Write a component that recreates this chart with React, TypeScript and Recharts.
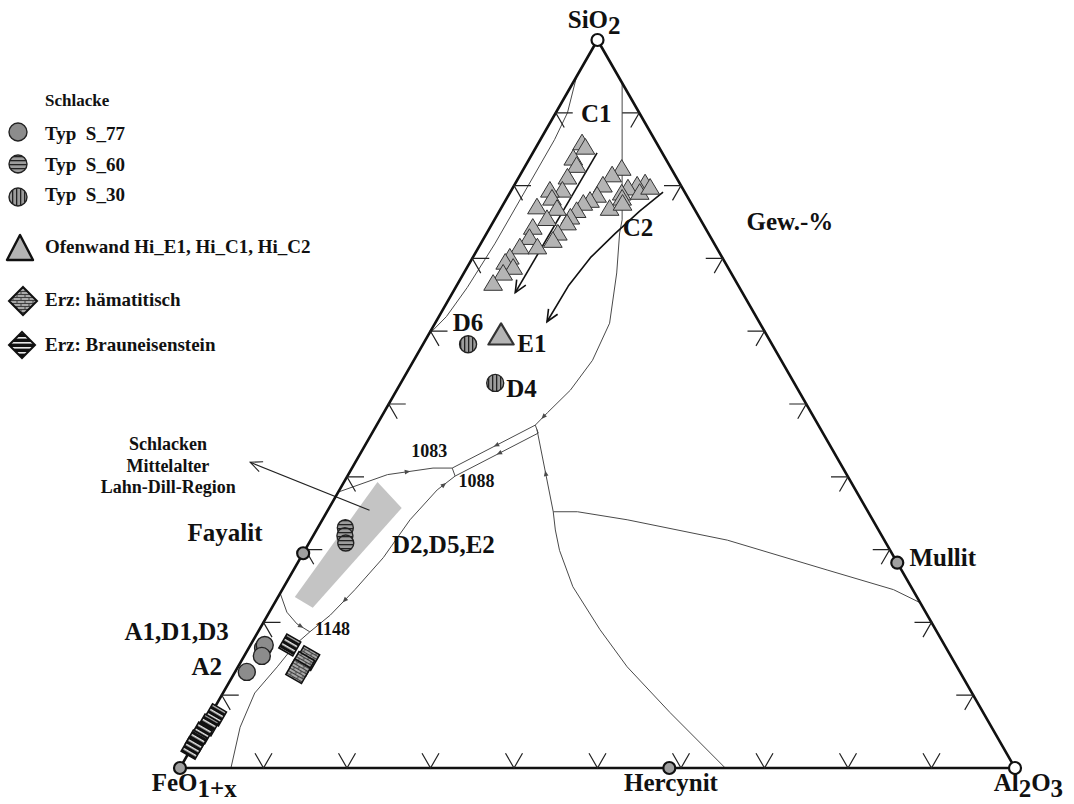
import { ScatterChart, Scatter, XAxis, YAxis } from "recharts";

const W = 1074;
const H = 804;
const FONT = '"Liberation Serif", "Times New Roman", serif';

// compositions in Gew.-%: [SiO2, Al2O3], FeO(1+x) is the remainder
type Comp = [number, number];

const corners: Comp[] = [[100, 0], [0, 0], [0, 100], [100, 0]];
const tickSteps = [10, 20, 30, 40, 50, 60, 70, 80, 90];

const phaseComps: Comp[] = [[29.5, 0], [0, 58.6], [28.2, 71.8], [0, 0]];
const openCorners: Comp[] = [[100, 0], [0, 100]];

// Schlacke
const typS77: Comp[] = [[16.5, 1.7], [16.9, 1.7], [15.4, 2.1], [13.2, 1.4]];
const typS60: Comp[] = [[33.0, 3.3], [31.9, 3.8], [30.9, 4.4]];
const typS30: Comp[] = [[58.2, 5.4], [52.9, 11.3]];

// Ofenwand
const ofenC1: Comp[] = [
  [85.9, 5.2], [85.3, 5.9], [83.8, 5.2], [82.8, 6.1], [81.2, 5.8], [79.4, 6.1], [79.4, 4.6],
  [78.3, 5.4], [77.1, 4.2], [76.9, 6.7], [75.5, 6.2], [74.3, 5.1], [72.9, 5.4], [71.6, 4.9],
  [71.6, 7.0], [70.2, 4.4], [69.5, 4.2], [68.8, 5.5], [68.0, 4.7], [66.6, 4.2],
];
const ofenC2: Comp[] = [
  [82.4, 11.7], [81.5, 11.0], [80.1, 10.6], [80.4, 15.5], [80.1, 14.7], [79.7, 13.8],
  [79.0, 13.4], [78.3, 13.8], [76.9, 13.0], [78.7, 10.6], [78.0, 10.1], [77.6, 9.5],
  [76.6, 9.2], [75.7, 8.9], [74.9, 8.9], [73.5, 8.5], [72.5, 8.4], [77.6, 14.2],
  [79.1, 15.5], [79.8, 16.4],
];
const ofenE1: Comp[] = [[59.5, 8.7]];

// Erz
const erzHaem: Comp[] = [[15.1, 7.7], [14.3, 7.5], [13.3, 7.5]];
const erzBraun: Comp[] = [[16.9, 4.7], [7.3, 0.6], [5.9, 0.4], [4.8, 0.2], [3.7, 0.1], [2.7, 0.1]];

// phase boundaries
const sio2Liquidus: Comp[] = [[95, 0], [90, 1.4], [86.3, 1.7], [80, 1.7], [72, 1.7], [66, 1.4], [62, 0.9], [59.5, 0]];
const cotecticTop: Comp[] = [[94.1, 5.9], [75.3, 15.3], [73.5, 15.9], [68, 18.3], [61.1, 20.9], [56, 21.4], [51.9, 20.8], [48.8, 19.6], [47.1, 19]];
const cotecticBand: Comp[] = [[47.1, 19], [41.2, 12], [40.1, 12.9], [46, 19.9], [47.1, 19]];
const cotectic1083: Comp[] = [[37.9, 0], [40.3, 4.7], [41.2, 9.7], [41.2, 12]];
const cotectic1148: Comp[] = [[40.1, 12.9], [38.2, 11.7], [34.1, 10.5], [28.9, 9.9], [24.5, 8.7], [21, 7.5], [18.7, 6.2], [16.9, 5.3], [13.9, 4.7], [10.3, 3.8], [5.6, 4.4], [0, 6.1]];
const cotecticFay: Comp[] = [[24, 0], [21.4, 2.1], [19.8, 4.1], [18.7, 6.2]];
const cotecticHerc: Comp[] = [[46.5, 19.5], [35.2, 27.1], [32.7, 28.6], [29.9, 30.5], [24.9, 34.6], [19, 40.8], [13.9, 46.6], [7.6, 54.9], [0, 65.3]];
const cotecticMullit: Comp[] = [[35.2, 27.1], [35.2, 30], [34.1, 36.5], [31.3, 49.9], [27.2, 63.9], [24.5, 73.2], [22.7, 77.3]];

// trend arrows and slag field
const trendC1: Comp[] = [[84.5, 7.7], [65.3, 7.5]];
const trendC2: Comp[] = [[79.1, 18.3], [76.5, 16.8], [73.4, 15.4], [70.1, 14.1], [66.2, 13.4], [61.3, 13.3]];
const pointerSlag: Comp[] = [[35.4, 5], [42, -12.6]];
const slagField: Comp[] = [[39.3, 4], [35.7, 8.7], [22, 4.9], [23.5, 2]];

// labels (odd parts are subscripts)
const bigLabels: string[][] = [
  ["SiO", "2"], ["FeO", "1+x"], ["Hercynit"], ["Al", "2", "O", "3"], ["Mullit"], ["Fayalit"],
  ["Gew.-%"], ["C1"], ["C2"], ["D6"], ["E1"], ["D4"], ["D2,D5,E2"], ["A1,D1,D3"], ["A2"],
];
const bigLabelComps: Comp[] = [
  [101.6, -1.2], [-3.2, 3.3], [-3.2, 60.4], [-3.2, 103.2], [27.7, 77.5], [31.2, -10.2],
  [73.9, 36.1], [88.7, 5.5], [73.1, 18.3], [60.0, 4.5], [57.1, 13.6], [51.0, 15.4],
  [29.5, 16.8], [17.6, -9.2], [12.8, -3.2],
];
const smallLabels: string[][] = [["1083"], ["1088"], ["1148"], ["Schlacken"], ["Mittelalter"], ["Lahn-Dill-Region"]];
const smallLabelComps: Comp[] = [[42.7, 8.5], [38.6, 16.2], [18.3, 9.1], [43.7, -23.3], [40.7, -21.8], [37.8, -20.3]];

const toXY = (c: Comp) => ({ x: c[1] + c[0] / 2, y: c[0] });
const pts = (cs: Comp[]) => cs.map(toXY);
const labelData = (texts: string[][], comps: Comp[]) =>
  comps.map((c, i) => ({ ...toXY(c), parts: texts[i] }));

const none = () => <g />;

type P = { x: number; y: number };

function lineRenderer(o: {
  color: string;
  width: number;
  fill?: string;
  closed?: boolean;
  head?: boolean;
  marks?: [number, number][];
}) {
  return (props: any) => {
    const ps: P[] = props.points || [];
    if (ps.length < 2) return <g />;
    const d = ps.map((q, i) => `${i ? "L" : "M"}${q.x},${q.y}`).join(" ") + (o.closed ? " Z" : "");
    const extras: JSX.Element[] = [];
    if (o.head) {
      const a = ps[ps.length - 2];
      const b = ps[ps.length - 1];
      const ang = Math.atan2(b.y - a.y, b.x - a.x);
      const L = 13;
      const s = 0.42;
      extras.push(
        <path
          key="head"
          d={`M${b.x - L * Math.cos(ang - s)},${b.y - L * Math.sin(ang - s)} L${b.x},${b.y} L${b.x - L * Math.cos(ang + s)},${b.y - L * Math.sin(ang + s)}`}
          fill="none"
          stroke={o.color}
          strokeWidth={o.width}
        />
      );
    }
    (o.marks || []).forEach(([seg, dir], k) => {
      const a = ps[seg];
      const b = ps[seg + 1];
      const mx = (a.x + b.x) / 2;
      const my = (a.y + b.y) / 2;
      let ang = Math.atan2(b.y - a.y, b.x - a.x);
      if (dir < 0) ang += Math.PI;
      const L = 6;
      const s = 0.4;
      extras.push(
        <path
          key={`m${k}`}
          d={`M${mx},${my} L${mx - L * Math.cos(ang - s)},${my - L * Math.sin(ang - s)} L${mx - L * Math.cos(ang + s)},${my - L * Math.sin(ang + s)} Z`}
          fill={o.color}
          stroke="none"
        />
      );
    });
    return (
      <g>
        <path d={d} fill={o.fill || "none"} stroke={o.fill ? "none" : o.color} strokeWidth={o.width} strokeLinejoin="round" />
        {extras}
      </g>
    );
  };
}

function tickShape(a1: number, a2: number) {
  return (p: any) => {
    const L = 17;
    const r1 = (a1 * Math.PI) / 180;
    const r2 = (a2 * Math.PI) / 180;
    return (
      <path
        d={`M${p.cx + L * Math.cos(r1)},${p.cy + L * Math.sin(r1)} L${p.cx},${p.cy} L${p.cx + L * Math.cos(r2)},${p.cy + L * Math.sin(r2)}`}
        fill="none"
        stroke="#222"
        strokeWidth={1.2}
      />
    );
  };
}

function labelShape(size: number, sub: number) {
  return (p: any) => {
    const parts: string[] = p.payload?.parts || [];
    return (
      <text x={p.cx} y={p.cy} textAnchor="middle" fontFamily={FONT} fontWeight="bold" fontSize={size} fill="#111">
        {parts.map((t, i) => (
          <tspan key={i} dy={i === 0 ? 0 : i % 2 ? sub : -sub}>
            {t}
          </tspan>
        ))}
      </text>
    );
  };
}

const circleShape = (fill: string, r = 8.5) => (p: any) => (
  <circle cx={p.cx} cy={p.cy} r={r} fill={fill} stroke="#222" strokeWidth={1.4} />
);

const triShape = (size: number, sw: number) => (p: any) => (
  <polygon
    points={`${p.cx},${p.cy - size * 0.5} ${p.cx - size * 0.55},${p.cy + size * 0.42} ${p.cx + size * 0.55},${p.cy + size * 0.42}`}
    fill="#b4b4b4"
    stroke="#333"
    strokeWidth={sw}
    strokeLinejoin="round"
  />
);

const oreShape = (fill: string, rot: number, s = 15) => (p: any) => (
  <rect
    x={p.cx - s / 2}
    y={p.cy - s / 2}
    width={s}
    height={s}
    fill={fill}
    stroke="#111"
    strokeWidth={1.6}
    transform={`rotate(${rot} ${p.cx} ${p.cy})`}
  />
);

const vertexShape = (fill: string) => (p: any) => (
  <circle cx={p.cx} cy={p.cy} r={6} fill={fill} stroke="#111" strokeWidth={2.2} />
);

function Patterns() {
  return (
    <svg width={0} height={0} style={{ position: "absolute" }}>
      <defs>
        <pattern id="hs" width="4" height="4" patternUnits="userSpaceOnUse">
          <rect width="4" height="4" fill="#9c9c9c" />
          <rect width="4" height="1.3" fill="#222" />
        </pattern>
        <pattern id="vs" width="4" height="4" patternUnits="userSpaceOnUse">
          <rect width="4" height="4" fill="#9c9c9c" />
          <rect width="1.3" height="4" fill="#222" />
        </pattern>
        <pattern id="brick" width="8" height="6" patternUnits="userSpaceOnUse">
          <rect width="8" height="6" fill="#a8a8a8" />
          <path d="M0,0.5 H8 M0,3.5 H8 M1,0.5 V3.5 M5,3.5 V6" stroke="#333" strokeWidth="0.9" fill="none" />
        </pattern>
        <pattern id="braun" width="5" height="5" patternUnits="userSpaceOnUse">
          <rect width="5" height="5" fill="#111" />
          <rect y="2" width="5" height="1.6" fill="#e8e8e8" />
        </pattern>
      </defs>
    </svg>
  );
}

function Legend() {
  const t = { fontFamily: FONT, fontWeight: "bold" as const, fill: "#111" };
  return (
    <svg width={340} height={370} style={{ position: "absolute", left: 0, top: 0 }}>
      <text x={45} y={106} fontSize={17} {...t}>Schlacke</text>
      <circle cx={18} cy={132} r={9} fill="#8c8c8c" stroke="#222" strokeWidth={1.4} />
      <text x={45} y={140} fontSize={19} {...t} xmlSpace="preserve">Typ  S_77</text>
      <circle cx={18} cy={164} r={9} fill="url(#hs)" stroke="#222" strokeWidth={1.4} />
      <text x={45} y={171} fontSize={19} {...t} xmlSpace="preserve">Typ  S_60</text>
      <circle cx={18} cy={197} r={9} fill="url(#vs)" stroke="#222" strokeWidth={1.4} />
      <text x={45} y={201} fontSize={19} {...t} xmlSpace="preserve">Typ  S_30</text>
      <polygon points="20,235 7,260 33,260" fill="#b4b4b4" stroke="#111" strokeWidth={2.4} strokeLinejoin="round" />
      <text x={45} y={253} fontSize={19} {...t}>Ofenwand Hi_E1, Hi_C1, Hi_C2</text>
      <polygon points="23,287 37,301 23,315 9,301" fill="url(#brick)" stroke="#111" strokeWidth={2} />
      <text x={45} y={306} fontSize={19} {...t}>Erz: hämatitisch</text>
      <polygon points="22,332 35,345 22,358 9,345" fill="url(#braun)" stroke="#111" strokeWidth={2} />
      <text x={45} y={351} fontSize={19} {...t}>Erz: Brauneisenstein</text>
    </svg>
  );
}

export default function App() {
  const gray = "#4a4a4a";
  return (
    <div style={{ position: "absolute", left: 0, top: 0, width: W, height: H, background: "#fff" }}>
      <Patterns />
      <ScatterChart width={W} height={H} margin={{ top: 0, right: 0, bottom: 0, left: 0 }}>
        <XAxis type="number" dataKey="x" domain={[-21.557, 107.066]} allowDataOverflow hide />
        <YAxis type="number" dataKey="y" domain={[-4.945, 105.495]} allowDataOverflow hide />

        <Scatter data={pts(slagField)} shape={none} line={lineRenderer({ color: "#c4c4c4", width: 0, fill: "#c4c4c4", closed: true })} isAnimationActive={false} />

        <Scatter data={pts(sio2Liquidus)} shape={none} line={lineRenderer({ color: gray, width: 1 })} isAnimationActive={false} />
        <Scatter data={pts(cotecticTop)} shape={none} line={lineRenderer({ color: gray, width: 1, marks: [[7, 1]] })} isAnimationActive={false} />
        <Scatter data={pts(cotecticBand)} shape={none} line={lineRenderer({ color: gray, width: 1, marks: [[0, 1], [2, -1]] })} isAnimationActive={false} />
        <Scatter data={pts(cotectic1083)} shape={none} line={lineRenderer({ color: gray, width: 1, marks: [[1, 1]] })} isAnimationActive={false} />
        <Scatter data={pts(cotectic1148)} shape={none} line={lineRenderer({ color: gray, width: 1, marks: [[0, -1], [4, 1]] })} isAnimationActive={false} />
        <Scatter data={pts(cotecticFay)} shape={none} line={lineRenderer({ color: gray, width: 1, marks: [[2, 1]] })} isAnimationActive={false} />
        <Scatter data={pts(cotecticHerc)} shape={none} line={lineRenderer({ color: gray, width: 1, marks: [[0, -1]] })} isAnimationActive={false} />
        <Scatter data={pts(cotecticMullit)} shape={none} line={lineRenderer({ color: gray, width: 1 })} isAnimationActive={false} />

        <Scatter data={pts(trendC1)} shape={none} line={lineRenderer({ color: "#111", width: 1.6, head: true })} isAnimationActive={false} />
        <Scatter data={pts(trendC2)} shape={none} line={lineRenderer({ color: "#111", width: 1.6, head: true })} isAnimationActive={false} />
        <Scatter data={pts(pointerSlag)} shape={none} line={lineRenderer({ color: "#222", width: 1.1, head: true })} isAnimationActive={false} />

        <Scatter data={pts(corners)} shape={none} line={lineRenderer({ color: "#111", width: 2.6 })} isAnimationActive={false} />

        <Scatter data={pts(tickSteps.map((v) => [v, 0] as Comp))} shape={tickShape(0, 60)} isAnimationActive={false} />
        <Scatter data={pts(tickSteps.map((v) => [0, v] as Comp))} shape={tickShape(-60, -120)} isAnimationActive={false} />
        <Scatter data={pts(tickSteps.map((v) => [v, 100 - v] as Comp))} shape={tickShape(180, 120)} isAnimationActive={false} />

        <Scatter data={pts(phaseComps)} shape={vertexShape("#a0a0a0")} isAnimationActive={false} />
        <Scatter data={pts(openCorners)} shape={vertexShape("#fff")} isAnimationActive={false} />

        <Scatter data={pts(ofenC1)} shape={triShape(17, 1)} isAnimationActive={false} />
        <Scatter data={pts(ofenC2)} shape={triShape(17, 1)} isAnimationActive={false} />
        <Scatter data={pts(ofenE1)} shape={triShape(23, 2.2)} isAnimationActive={false} />

        <Scatter data={pts(typS77)} shape={circleShape("#8c8c8c")} isAnimationActive={false} />
        <Scatter data={pts(typS60)} shape={circleShape("url(#hs)", 8)} isAnimationActive={false} />
        <Scatter data={pts(typS30)} shape={circleShape("url(#vs)", 8.5)} isAnimationActive={false} />

        <Scatter data={pts(erzBraun)} shape={oreShape("url(#braun)", 30, 16)} isAnimationActive={false} />
        <Scatter data={pts(erzHaem)} shape={oreShape("url(#brick)", 30, 18)} isAnimationActive={false} />

        <Scatter data={labelData(bigLabels, bigLabelComps)} shape={labelShape(25, 6)} isAnimationActive={false} />
        <Scatter data={labelData(smallLabels, smallLabelComps)} shape={labelShape(18, 0)} isAnimationActive={false} />
      </ScatterChart>
      <Legend />
    </div>
  );
}
